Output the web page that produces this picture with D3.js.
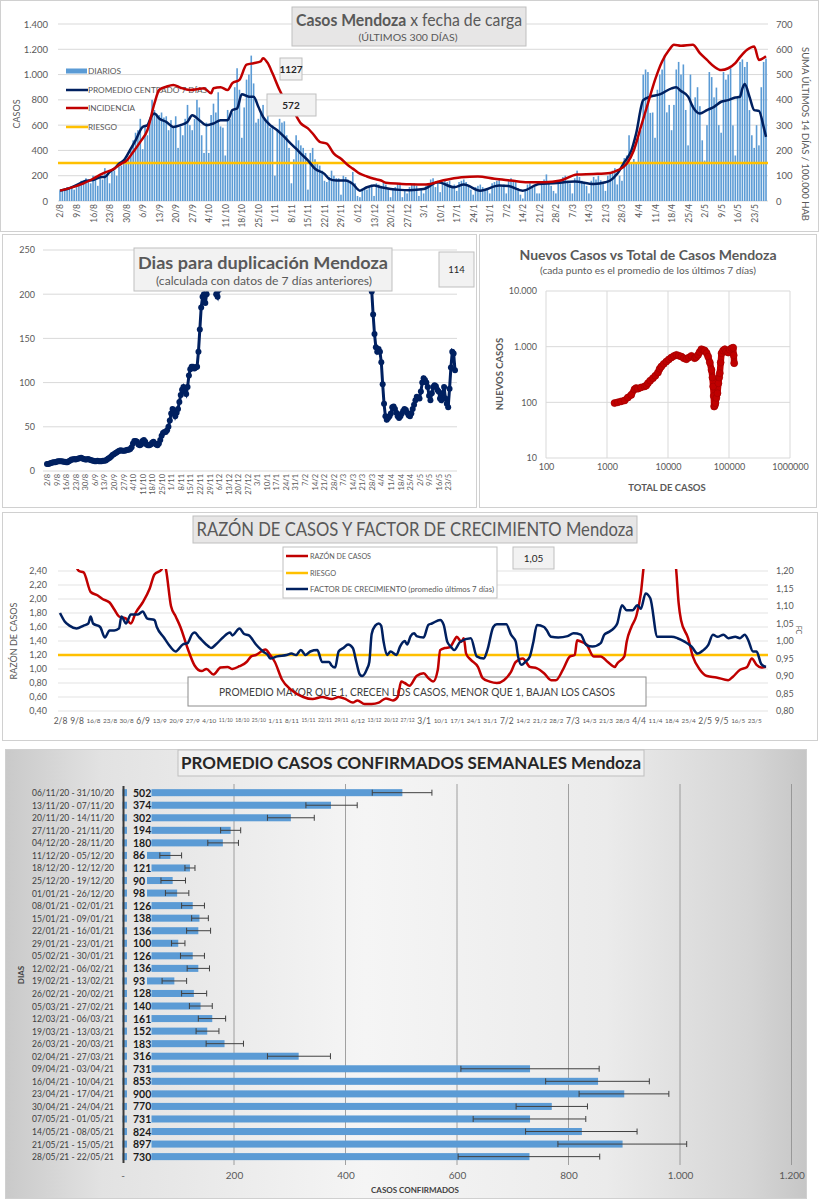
<!DOCTYPE html>
<html>
<head>
<meta charset="utf-8">
<script src="https://cdn.jsdelivr.net/npm/d3@7"></script>
<style>
  body { margin: 0; background: #fff; }
  svg { display: block; }
  text { font-family: Lato, "Open Sans", sans-serif; }
</style>
</head>
<body>
<div id="chart"></div>
<script>
// ---------- datos ----------
const fechas = ["2/8","9/8","16/8","23/8","30/8","6/9","13/9","20/9","27/9","4/10","11/10","18/10","25/10","1/11","8/11","15/11","22/11","29/11","6/12","13/12","20/12","27/12","3/1","10/1","17/1","24/1","31/1","7/2","14/2","21/2","28/2","7/3","14/3","21/3","28/3","4/4","11/4","18/4","25/4","2/5","9/5","16/5","23/5"];

// casos diarios, un valor por dia desde 2/8 (300 dias)
const diarios = [
  85,95,100,110,95,105,90, 110,140,160,150,180,170,140, 200,190,120,180,170,260,200,
  140,230,240,200,270,280,330, 320,350,400,480,540,560,650, 410,600,520,650,800,720,690,
  680,700,660,670,560,640,580, 670,420,590,520,650,760,600, 560,650,800,740,520,380,620,
  380,680,770,700,860,590,580, 360,720,650,700,900,1050,880, 500,740,960,1000,1150,930,620,
  650,700,760,650,720,580,
  600,200,560,650,620,630,520, 420,140,330,520,480,440,420, 380,90,380,420,330,300,280,
  240,160,150,190,240,200,180, 180,50,200,190,170,160,230, 140,40,30,100,110,90,110,
  130,40,140,130,120,150,130, 100,30,90,110,140,130,30, 90,60,110,130,140,120,40,
  100,60,120,140,170,180,110, 160,70,150,170,150,160,106, 130,80,150,160,170,150,112,
  90,50,110,120,130,110,90, 90,60,140,150,160,170,112, 130,60,170,180,160,150,102,
  50,20,90,130,140,110,111, 60,60,140,170,210,150,120, 80,60,150,170,190,200,160,
  140,60,180,240,190,160,150, 120,60,160,190,170,200,164, 150,80,200,220,240,260,131,
  200,160,340,360,520,300,332, 300,500,560,1000,1040,1020,697, 700,500,880,1000,1040,1150,701,
  760,560,760,1040,1100,1000,1080, 720,440,1000,760,820,900,750, 480,320,600,1020,980,820,897,
  600,540,1020,960,1000,1050,598, 360,820,1100,1120,1060,1100,719, 520,420,600,440,900,1100,1127
];
// [dia, valor]
const promedio7 = [[0,82],[3,95],[8,135],[11,160],[14,165],[17,188],[19,190],[21,228],[23,255],[25,295],[27,321],[30,414],[32,480],[35,586],[37,600],[39,679],[40,692],[42,652],[45,626],[48,586],[51,600],[54,626],[56,679],[59,639],[62,600],[65,613],[68,639],[71,639],[73,719],[75,732],[77,845],[80,825],[82,825],[84,745],[86,666],[89,600],[92,560],[95,507],[97,467],[100,414],[102,374],[105,321],[108,255],[112,215],[114,175],[117,162],[121,162],[124,135],[127,82],[130,109],[133,122],[136,109],[140,95],[144,88],[148,86],[154,95],[160,148],[167,109],[171,130],[178,82],[186,122],[190,118],[196,82],[203,135],[209,140],[218,154],[226,135],[231,148],[233,162],[236,215],[239,307],[242,400],[244,533],[247,798],[250,825],[254,843],[259,891],[261,899],[263,870],[266,825],[268,745],[271,692],[274,719],[277,745],[280,785],[283,798],[286,819],[288,825],[289,891],[290,925],[292,825],[294,719],[296,713],[298,586],[299,507]];
// incidencia: suma 14 dias / 100.000 hab (eje derecho)
const incidencia = [[0,41],[3,48],[10,70],[14,88],[18,108],[23,128],[26,148],[28,158],[31,194],[34,234],[37,280],[40,386],[42,439],[45,452],[48,459],[51,448],[55,439],[58,442],[61,446],[64,426],[65,446],[68,450],[71,439],[73,466],[76,479],[79,539],[82,545],[85,552],[86,565],[88,545],[90,505],[93,439],[96,386],[99,353],[102,307],[105,287],[107,267],[110,234],[113,227],[116,187],[119,167],[122,141],[124,128],[127,108],[130,97],[133,88],[136,81],[138,72],[144,68],[148,66],[155,65],[162,81],[170,94],[177,97],[184,88],[191,81],[198,74],[205,74],[212,81],[219,105],[226,107],[233,111],[236,121],[240,147],[243,200],[246,293],[249,386],[252,479],[255,552],[258,598],[260,618],[263,614],[268,618],[271,585],[274,558],[277,532],[280,518],[283,525],[286,545],[288,569],[291,598],[294,611],[296,558],[299,572]];
const riesgoCasos = 300;
const ultimoDiario = "1127", ultimaIncidencia = "572";

// dias para duplicacion: tramo 1 desde el dia 0, tramo 2 desde el dia 237
const duplicacionA = [
  8,8,8.5,9,9.5,10,10, 10.5,11,11,11,11,10.5,10.5, 10,10,11,12,13,13,13.5,
  13,13.5,14,14.5,15,14,13.5, 13,13,13.5,13,12.5,12,11.5, 11,11,11.5,11,11,11,11.5,
  11.5,12,13,14,15,16.5,18, 19,20,21,22,23,23.5,23, 23,23,23.5,24,24,25,27,
  31,34,34,33,30,29,30, 34,35,33,30,29,29,30, 32,33,31,30,29,31,35,
  40,43,44,44,46,50,57, 65,70,68,62,66,70,78, 86,92,95,90,87,95,108,
  115,118,118,116,117,118,135, 160,185,197,200,190,200,210, 230,270,320,280,230,200,197, 205
];
const inicioB = 237;
const duplicacionB = [
  280, 203,177,155,140,135,138,135, 123,98,76,62,58,60,62, 65,72,73,70,66,62,60,
  62,65,68,70,69,66,63, 62,65,70,75,80,84,83, 82,90,100,105,103,100,95,
  85,80,88,95,97,96,92, 90,82,80,88,95,82,76, 72,93,117,135,133,114
];
const ultimaDuplicacion = "114";

// nuevos casos (promedio 7 dias) vs total de casos
const totalCasos = [1330,1500,1700,1940,2200,2495,2830,3000,3213,3600,4130,4400,4690,5100,5665,6200,6850,7300,7770,8500,9390,10300,11350,12500,13700,15000,16560,18200,20000,22000,24200,27400,29000,31100,33000,35300,38000,40100,43000,45500,48500,51600,53500,55000,56200,57100,58500,60000,62000,64700,67000,69000,70700,73000,75400,80000,85500,90000,96900,103000,110000,117000,119500,121500];
const nuevosCasos = [97,100,104,108,122,136,172,180,176,185,193,200,221,245,272,300,343,400,440,490,540,590,638,680,712,690,664,620,595,640,683,621,650,712,800,900,870,851,770,664,520,383,280,192,130,84,88,97,120,146,220,280,334,520,762,850,900,820,783,880,937,960,700,505];

// razon de casos (eje izq) y factor de crecimiento (eje der), [dia, valor]
const razonCasos = [[0,3.2],[4,2.8],[7,2.45],[8,2.4],[10,2.38],[13,2.1],[16,2.05],[18,2.0],[21,1.95],[23,1.85],[25,1.75],[28,1.72],[30,1.65],[32,1.8],[35,1.95],[38,2.15],[40,2.35],[43,2.42],[44,2.55],[45,2.4],[47,1.9],[49,1.75],[51,1.6],[54,1.3],[57,1.05],[60,0.97],[62,1.0],[65,0.92],[68,1.02],[71,1.03],[73,1.0],[76,1.04],[79,1.1],[81,1.18],[83,1.2],[87,1.28],[89,1.2],[91,1.1],[94,0.85],[98,0.7],[103,0.6],[107,0.57],[111,0.6],[115,0.57],[118,0.6],[121,0.57],[124,0.52],[126,0.55],[129,0.5],[132,0.5],[135,0.52],[138,0.58],[141,0.55],[143,0.6],[144.5,0.82],[146,0.8],[148,0.76],[151,0.9],[154,0.94],[156,0.87],[158,0.82],[160,0.99],[161,1.27],[163,1.3],[165,1.31],[167,1.41],[168,1.46],[170,1.39],[171,1.44],[172,1.22],[174,1.13],[177,1.03],[179,0.87],[182,0.82],[185,0.8],[188,0.84],[191,0.96],[193,1.1],[196,1.15],[199,1.03],[202,1.01],[205,0.94],[208,0.84],[210,0.84],[213,0.99],[216,1.18],[218,1.2],[219,1.41],[220,1.4],[223,1.35],[226,1.18],[229,1.18],[232,1.1],[235,1.03],[236,1.08],[239,1.18],[240,1.39],[242,1.6],[244,1.75],[246,2.08],[247,2.4],[249,3.0],[254,3.5],[259,3.0],[261,2.4],[262,1.94],[263,1.7],[266,1.44],[268,1.18],[271,0.99],[274,0.9],[278,0.88],[283,0.84],[285,0.89],[288,0.99],[291,1.03],[293,1.15],[295,1.06],[297,1.02],[299,1.03]];
const factorCrec = [[0,1.080],[2,1.056],[4,1.044],[7,1.036],[10,1.044],[12,1.050],[13,1.070],[14,1.050],[17,1.040],[19,1.010],[21,1.030],[23,1.030],[25,1.036],[26,1.070],[28,1.050],[30,1.076],[33,1.076],[35,1.084],[37,1.064],[40,1.060],[41,1.040],[44,1.010],[46,0.990],[49,0.970],[52,0.990],[54,0.994],[56,1.020],[57,1.024],[59,1.010],[63,0.984],[64,0.980],[66,0.990],[69,1.010],[72,1.024],[73,1.016],[76,1.036],[78,1.020],[80,1.016],[83,0.990],[85,0.976],[86,0.970],[88,0.960],[89,0.950],[92,0.956],[96,0.960],[98,0.964],[100,0.960],[102,0.974],[104,0.960],[106,0.970],[109,0.974],[111,0.940],[114,0.940],[115,0.930],[116.5,0.924],[118,0.970],[120,0.980],[122,0.990],[124,0.980],[125.5,0.940],[127,0.904],[128,0.900],[130,0.920],[131,0.940],[132,1.020],[133.5,1.044],[135,1.050],[136,1.044],[137,1.000],[138.5,0.960],[140,0.970],[142.5,0.960],[144,0.984],[146,1.000],[147,0.990],[148.5,1.014],[150,1.022],[151,1.014],[154,1.010],[156,1.046],[157.5,1.050],[161,1.060],[162.5,1.046],[164,0.998],[165.5,0.984],[167,0.974],[169.5,0.998],[174,1.008],[176.5,0.956],[179.5,0.950],[181,0.974],[183.5,1.040],[185,1.048],[189,1.048],[191,1.018],[193,0.998],[194,0.956],[195.5,0.932],[197,0.940],[199,0.956],[200.5,0.998],[202,1.046],[205,1.040],[206,1.032],[208,1.012],[211,1.010],[215,1.014],[217.5,1.022],[220.5,1.018],[223,0.988],[225.5,0.984],[229,0.994],[230.5,1.018],[232.5,1.026],[234.5,1.036],[236,1.050],[238,1.102],[240,1.088],[242.5,1.088],[244.5,1.102],[246,1.092],[248,1.136],[250,1.122],[253,1.012],[259,1.012],[261.5,1.008],[264.5,0.998],[267.5,0.984],[270,0.964],[272.5,0.974],[274.5,0.988],[276.5,1.018],[278.5,1.012],[281,1.018],[283,1.008],[286,1.012],[288,1.008],[290,1.018],[291.5,1.002],[293.5,0.970],[295,0.970],[297,0.934],[299,0.926]];
const riesgoRazon = 1.2;
const ultimoFC = "1,05";

// promedio semanal de casos confirmados
const semanas = ["06/11/20 - 31/10/20","13/11/20 - 07/11/20","20/11/20 - 14/11/20","27/11/20 - 21/11/20","04/12/20 - 28/11/20","11/12/20 - 05/12/20","18/12/20 - 12/12/20","25/12/20 - 19/12/20","01/01/21 - 26/12/20","08/01/21 - 02/01/21","15/01/21 - 09/01/21","22/01/21 - 16/01/21","29/01/21 - 23/01/21","05/02/21 - 30/01/21","12/02/21 - 06/02/21","19/02/21 - 13/02/21","26/02/21 - 20/02/21","05/03/21 - 27/02/21","12/03/21 - 06/03/21","19/03/21 - 13/03/21","26/03/21 - 20/03/21","02/04/21 - 27/03/21","09/04/21 - 03/04/21","16/04/21 - 10/04/21","23/04/21 - 17/04/21","30/04/21 - 24/04/21","07/05/21 - 01/05/21","14/05/21 - 08/05/21","21/05/21 - 15/05/21","28/05/21 - 22/05/21"];
const promSemanal = [502,374,302,194,180,86,121,90,98,126,138,136,100,126,136,93,128,140,161,152,183,316,731,853,900,770,731,824,897,730];
const errorInf = [448,329,260,176,153,67,112,69,77,106,124,115,88,104,116,71,106,120,136,132,150,260,607,759,819,706,629,723,781,602];
const errorSup = [555,421,344,212,208,106,130,113,119,147,154,158,112,147,156,115,151,161,185,173,217,373,855,945,980,834,831,923,1012,856];

// ---------- estilo ----------
const GRIS = "#595959", AZUL = "#002060", ROJO = "#c00000", NARANJA = "#ffc000", CELESTE = "#5b9bd5";
const ANGOSTA = "'Liberation Sans Narrow', 'DejaVu Sans Condensed', Lato, sans-serif";
const locale = d3.formatLocale({decimal: ",", thousands: ".", grouping: [3], currency: ["$", ""]});
const fmtMiles = locale.format(",");
const fmtDec2 = locale.format(".2f");

const svg = d3.select("#chart").append("svg").attr("width", 819).attr("height", 1200);
const defs = svg.append("defs");

function caja(g, x, y, w, h, fill) {
  return g.append("rect").attr("x", x).attr("y", y).attr("width", w).attr("height", h)
    .attr("fill", fill).attr("stroke", "#bfbfbf");
}

function texto(g, x, y, str, size, o = {}) {
  const t = g.append("text").attr("x", x).attr("y", y).text(str)
    .attr("font-size", size).attr("fill", o.fill || GRIS)
    .attr("text-anchor", o.anchor || "start")
    .attr("font-weight", o.weight || "normal");
  if (o.family) t.attr("font-family", o.family);
  if (o.len) t.attr("textLength", o.len).attr("lengthAdjust", "spacingAndGlyphs");
  if (o.rotate) t.attr("transform", `rotate(${o.rotate},${x},${y})`);
  return t;
}

function limpiarEje(a, size) {
  a.attr("font-family", null).attr("font-size", size);
  a.select(".domain").remove();
  a.selectAll(".tick line").remove();
  a.selectAll("text").attr("fill", GRIS);
}

function ejeFechasVertical(g, x, y0, size) {
  const a = g.append("g").attr("transform", `translate(0,${y0})`)
    .call(d3.axisBottom(x).tickValues(d3.range(0, 295, 7)).tickFormat((d, i) => fechas[i]).tickSize(0));
  limpiarEje(a, size);
  a.selectAll("text").attr("transform", "rotate(-90)").attr("text-anchor", "end")
    .attr("x", -3).attr("y", 0).attr("dy", "0.35em");
}

function clip(id, x, y, w, h) {
  defs.append("clipPath").attr("id", id).append("rect").attr("x", x).attr("y", y).attr("width", w).attr("height", h);
}

// ---------- panel 1: casos diarios ----------
const p1 = svg.append("g");
p1.append("rect").attr("x", 0.5).attr("y", 0.5).attr("width", 818).attr("height", 231).attr("fill", "#fff").attr("stroke", "#d0d0d0");
const x1 = d3.scaleLinear().domain([0, 299]).range([60, 766]);
const y1 = d3.scaleLinear().domain([0, 1400]).range([201, 24]);
const y1r = d3.scaleLinear().domain([0, 700]).range([201, 24]);

p1.selectAll("line.grid").data(d3.range(0, 1401, 200)).join("line").attr("class", "grid")
  .attr("x1", 58).attr("x2", 768).attr("y1", d => y1(d)).attr("y2", d => y1(d)).attr("stroke", "#d9d9d9");

const a1 = p1.append("g").attr("transform", "translate(50,0)")
  .call(d3.axisLeft(y1).tickValues(d3.range(0, 1401, 200)).tickFormat(fmtMiles).tickSize(0).tickPadding(2));
limpiarEje(a1, 9.5);
const a1r = p1.append("g").attr("transform", "translate(774,0)")
  .call(d3.axisRight(y1r).tickValues(d3.range(0, 701, 100)).tickFormat(fmtMiles).tickSize(0).tickPadding(2));
limpiarEje(a1r, 9.5);
ejeFechasVertical(p1, x1, 201, 8.5);

p1.selectAll("rect.bar").data(diarios).join("rect").attr("class", "bar")
  .attr("x", (d, i) => x1(i) - 0.8).attr("width", 1.6)
  .attr("y", d => y1(d)).attr("height", d => y1(0) - y1(d)).attr("fill", CELESTE);

// leyenda
const ley1 = p1.append("g");
ley1.append("rect").attr("x", 66).attr("y", 68.5).attr("width", 21).attr("height", 5).attr("fill", CELESTE);
[[90, AZUL], [108, ROJO], [127, NARANJA]].forEach(([y, c]) =>
  ley1.append("line").attr("x1", 66).attr("x2", 88).attr("y1", y).attr("y2", y).attr("stroke", c).attr("stroke-width", 2.5));
texto(ley1, 88, 74, "DIARIOS", 8, {family: ANGOSTA, len: 33});
texto(ley1, 88, 93, "PROMEDIO CENTRADO 7 DÍAS", 8, {family: ANGOSTA, len: 119});
texto(ley1, 88, 111, "INCIDENCIA", 8, {family: ANGOSTA, len: 47});
texto(ley1, 88, 130, "RIESGO", 8, {family: ANGOSTA, len: 29});

p1.append("line").attr("x1", 58).attr("x2", 768).attr("y1", y1(riesgoCasos)).attr("y2", y1(riesgoCasos))
  .attr("stroke", NARANJA).attr("stroke-width", 2.5);
const linea1 = d3.line().x(d => x1(d[0])).y(d => y1(d[1])).curve(d3.curveMonotoneX);
const linea1r = d3.line().x(d => x1(d[0])).y(d => y1r(d[1])).curve(d3.curveMonotoneX);
p1.append("path").attr("d", linea1(promedio7)).attr("fill", "none").attr("stroke", AZUL).attr("stroke-width", 2.5);
p1.append("path").attr("d", linea1r(incidencia)).attr("fill", "none").attr("stroke", ROJO).attr("stroke-width", 2.5);

texto(p1, 20, 114, "CASOS", 9, {anchor: "middle", rotate: -90});
texto(p1, 802, 134, "SUMA  ÚLTIMOS 14 DÍAS / 100.000 HAB", 9.5, {anchor: "middle", rotate: 90, len: 174});

caja(p1, 292, 7, 234, 39, "#e7e6e6");
const t1 = texto(p1, 409, 26, "", 17, {anchor: "middle", len: 226});
t1.append("tspan").attr("font-weight", "bold").text("Casos Mendoza ");
t1.append("tspan").text("x fecha de carga");
texto(p1, 408, 41, "(ÚLTIMOS 300 DÍAS)", 9.5, {anchor: "middle", len: 99});
caja(p1, 280, 58, 22, 22, "#f2f2f2");
texto(p1, 291, 73, ultimoDiario, 10, {anchor: "middle", weight: "bold", fill: "#262626"});
caja(p1, 267, 94, 49, 22, "#f2f2f2");
texto(p1, 291, 109, ultimaIncidencia, 10, {anchor: "middle", weight: "bold", fill: "#262626"});

// ---------- panel 2: dias para duplicacion ----------
const p2 = svg.append("g");
p2.append("rect").attr("x", 2.5).attr("y", 234.5).attr("width", 474).attr("height", 273).attr("fill", "#fff").attr("stroke", "#d0d0d0");
const x2 = d3.scaleLinear().domain([0, 299]).range([47, 455]);
const y2 = d3.scaleLinear().domain([0, 250]).range([471, 250]);
p2.selectAll("line.grid").data(d3.range(0, 251, 50)).join("line").attr("class", "grid")
  .attr("x1", 43).attr("x2", 457).attr("y1", d => y2(d)).attr("y2", d => y2(d)).attr("stroke", "#d9d9d9");
const a2 = p2.append("g").attr("transform", "translate(38,0)")
  .call(d3.axisLeft(y2).tickValues(d3.range(0, 251, 50)).tickSize(0).tickPadding(3));
limpiarEje(a2, 9);
ejeFechasVertical(p2, x2, 471, 7.5);

clip("clipDup", 43, 248, 416, 226);
const puntosDup = duplicacionA.map((v, i) => [i, v]).concat([null]).concat(duplicacionB.map((v, i) => [inicioB + i, v]));
const lineaDup = d3.line().defined(d => d !== null).x(d => x2(d[0])).y(d => y2(d[1]));
const gDup = p2.append("g").attr("clip-path", "url(#clipDup)");
gDup.append("path").attr("d", lineaDup(puntosDup)).attr("fill", "none").attr("stroke", AZUL).attr("stroke-width", 3);
gDup.selectAll("circle").data(puntosDup.filter(d => d !== null)).join("circle")
  .attr("cx", d => x2(d[0])).attr("cy", d => y2(d[1])).attr("r", 3).attr("fill", AZUL);

caja(p2, 134, 248, 258, 43, "#f2f2f2");
texto(p2, 263, 269, "Dias para duplicación Mendoza", 17, {anchor: "middle", weight: "bold", len: 250});
texto(p2, 264, 285, "(calculada con datos de 7 días anteriores)", 11, {anchor: "middle", len: 216});
caja(p2, 439, 252, 35, 35, "#f2f2f2");
texto(p2, 456.5, 273, ultimaDuplicacion, 9.5, {anchor: "middle", fill: "#262626"});

// ---------- panel 3: nuevos vs total ----------
const p3 = svg.append("g");
p3.append("rect").attr("x", 479.5).attr("y", 234.5).attr("width", 337).attr("height", 273).attr("fill", "#fff").attr("stroke", "#d0d0d0");
const x3 = d3.scaleLog().domain([100, 1e6]).range([546, 790]);
const y3 = d3.scaleLog().domain([10, 1e4]).range([458, 291]);
const decX = [100, 1000, 10000, 100000, 1000000], decY = [10, 100, 1000, 10000];
p3.selectAll("line.gx").data(decX).join("line").attr("class", "gx")
  .attr("x1", d => x3(d)).attr("x2", d => x3(d)).attr("y1", 291).attr("y2", 458).attr("stroke", "#d9d9d9");
p3.selectAll("line.gy").data(decY).join("line").attr("class", "gy")
  .attr("x1", 546).attr("x2", 790).attr("y1", d => y3(d)).attr("y2", d => y3(d)).attr("stroke", "#d9d9d9");
const a3y = p3.append("g").attr("transform", "translate(539,0)")
  .call(d3.axisLeft(y3).tickValues(decY).tickFormat(fmtMiles).tickSize(0).tickPadding(2));
limpiarEje(a3y, 9);
const a3x = p3.append("g").attr("transform", "translate(0,462)")
  .call(d3.axisBottom(x3).tickValues(decX).tickFormat(d3.format("d")).tickSize(0).tickPadding(2));
limpiarEje(a3x, 9);
const puntosSc = totalCasos.map((t, i) => [t, nuevosCasos[i]]);
p3.append("path").attr("d", d3.line().x(d => x3(d[0])).y(d => y3(d[1]))(puntosSc))
  .attr("fill", "none").attr("stroke", ROJO).attr("stroke-width", 6.5).attr("stroke-linejoin", "round").attr("stroke-linecap", "round");
p3.selectAll("circle").data(puntosSc).join("circle")
  .attr("cx", d => x3(d[0])).attr("cy", d => y3(d[1])).attr("r", 3.5).attr("fill", ROJO).attr("stroke", "#a00000").attr("stroke-width", 0.6);
texto(p3, 648, 260, "Nuevos Casos vs Total de Casos Mendoza", 13.5, {anchor: "middle", weight: "bold", len: 257});
texto(p3, 648, 274, "(cada punto es el promedio de los últimos 7 días)", 9.5, {anchor: "middle", len: 216});
texto(p3, 503, 374, "NUEVOS CASOS", 9.5, {anchor: "middle", weight: "bold", rotate: -90});
texto(p3, 667, 491, "TOTAL DE CASOS", 9.5, {anchor: "middle", weight: "bold"});

// ---------- panel 4: razon de casos y factor de crecimiento ----------
const p4 = svg.append("g");
p4.append("rect").attr("x", 2.5).attr("y", 512.5).attr("width", 815).attr("height", 228).attr("fill", "#fff").attr("stroke", "#d0d0d0");
const x4 = d3.scaleLinear().domain([0, 299]).range([60, 766]);
const y4 = d3.scaleLinear().domain([0.4, 2.4]).range([711, 571]);
const y4r = d3.scaleLinear().domain([0.8, 1.2]).range([711, 571]);
const ticksIzq = d3.range(0, 11).map(i => +(0.4 + 0.2 * i).toFixed(2));
const ticksDer = d3.range(0, 9).map(i => +(0.8 + 0.05 * i).toFixed(2));
p4.selectAll("line.grid").data(ticksIzq).join("line").attr("class", "grid")
  .attr("x1", 58).attr("x2", 768).attr("y1", d => y4(d)).attr("y2", d => y4(d)).attr("stroke", "#e3e3e3");
const a4 = p4.append("g").attr("transform", "translate(49,0)")
  .call(d3.axisLeft(y4).tickValues(ticksIzq).tickFormat(fmtDec2).tickSize(0).tickPadding(2));
limpiarEje(a4, 9);
const a4r = p4.append("g").attr("transform", "translate(774,0)")
  .call(d3.axisRight(y4r).tickValues(ticksDer).tickFormat(fmtDec2).tickSize(0).tickPadding(2));
limpiarEje(a4r, 9);
const a4x = p4.append("g").attr("transform", "translate(0,716)")
  .call(d3.axisBottom(x4).tickValues(d3.range(0, 295, 7)).tickFormat((d, i) => fechas[i]).tickSize(0).tickPadding(2));
limpiarEje(a4x, 8.5);
// las fechas van muy juntas: se achica la letra de las mas largas para que no se pisen
const pasoSemana = x4(7) - x4(0) - 2.5;
a4x.selectAll("text").each(function() {
  const ancho = this.getComputedTextLength();
  if (ancho > pasoSemana) d3.select(this).attr("font-size", (8.5 * pasoSemana / ancho).toFixed(2));
});

// leyenda y nota (debajo de las lineas)
caja(p4, 283, 547, 214, 51, "#fff");
[[556, ROJO, "RAZÓN DE CASOS", 61], [573, NARANJA, "RIESGO", 26], [589, AZUL, "FACTOR DE CRECIMIENTO (promedio últimos 7 días)", 184]].forEach(([y, c, s, l]) => {
  p4.append("line").attr("x1", 286).attr("x2", 308).attr("y1", y).attr("y2", y).attr("stroke", c).attr("stroke-width", 2.5);
  texto(p4, 310, y + 2.8, s, 7.5, {family: ANGOSTA, len: l});
});
caja(p4, 188, 677, 458, 29, "#fff").attr("stroke", "#8c8c8c");
texto(p4, 417, 696, "PROMEDIO MAYOR QUE 1, CRECEN LOS CASOS, MENOR QUE 1, BAJAN LOS CASOS", 11.5, {anchor: "middle", fill: "#404040", len: 396});

clip("clipRazon", 58, 569, 712, 144);
const gR = p4.append("g").attr("clip-path", "url(#clipRazon)");
gR.append("line").attr("x1", 58).attr("x2", 768).attr("y1", y4(riesgoRazon)).attr("y2", y4(riesgoRazon))
  .attr("stroke", NARANJA).attr("stroke-width", 2.5);
gR.append("path").attr("d", d3.line().x(d => x4(d[0])).y(d => y4(d[1])).curve(d3.curveMonotoneX)(razonCasos))
  .attr("fill", "none").attr("stroke", ROJO).attr("stroke-width", 2.5);
gR.append("path").attr("d", d3.line().x(d => x4(d[0])).y(d => y4r(d[1])).curve(d3.curveMonotoneX)(factorCrec))
  .attr("fill", "none").attr("stroke", AZUL).attr("stroke-width", 2.5);

texto(p4, 17, 641, "RAZÓN DE CASOS", 9, {anchor: "middle", rotate: -90});
texto(p4, 796, 630, "FC", 7, {anchor: "middle", rotate: 90});
caja(p4, 193, 516, 444, 27, "#e7e6e6");
texto(p4, 415, 536, "RAZÓN DE CASOS Y FACTOR DE CRECIMIENTO Mendoza", 19, {anchor: "middle", len: 437});
caja(p4, 513, 547, 41, 22, "#f2f2f2");
texto(p4, 533.5, 562, ultimoFC, 10, {anchor: "middle", fill: "#262626"});

// ---------- panel 5: promedio semanal ----------
const p5 = svg.append("g");
const grad = defs.append("linearGradient").attr("id", "fondo").attr("gradientUnits", "userSpaceOnUse")
  .attr("x1", 5).attr("y1", 0).attr("x2", 807).attr("y2", 0);
[[0, "#c9c9c9"], [0.12, "#e2e2e2"], [0.45, "#f5f5f5"], [0.75, "#ebebeb"], [0.93, "#d5d5d5"], [1, "#c6c6c6"]]
  .forEach(s => grad.append("stop").attr("offset", s[0]).attr("stop-color", s[1]));
p5.append("rect").attr("x", 5.5).attr("y", 749.5).attr("width", 801).attr("height", 449).attr("fill", "url(#fondo)").attr("stroke", "#d0d0d0");

const xb = d3.scaleLinear().domain([0, 1200]).range([122.5, 791.5]);
const yb = d3.scaleBand().domain(semanas).range([786.4, 1162.9]).paddingInner(0.44).paddingOuter(0.22);
const ticksB = d3.range(0, 1201, 200);
p5.selectAll("line.grid").data(ticksB.slice(1)).join("line").attr("class", "grid")
  .attr("x1", d => xb(d)).attr("x2", d => xb(d)).attr("y1", 784).attr("y2", 1165).attr("stroke", "#8c8c8c").attr("stroke-width", 0.8);
const a5 = p5.append("g").attr("transform", "translate(0,1170)")
  .call(d3.axisBottom(xb).tickValues(ticksB).tickFormat(d => d === 0 ? "-" : fmtMiles(d)).tickSize(0).tickPadding(2));
limpiarEje(a5, 10);

p5.selectAll("rect.bar").data(promSemanal).join("rect").attr("class", "bar")
  .attr("x", xb(0)).attr("y", (d, i) => yb(semanas[i]))
  .attr("width", d => xb(d) - xb(0)).attr("height", yb.bandwidth()).attr("fill", CELESTE);
// fondo de las etiquetas de valor
p5.selectAll("rect.lab").data(promSemanal).join("rect").attr("class", "lab")
  .attr("x", 127).attr("y", (d, i) => yb(semanas[i]) - 2.5)
  .attr("width", d => d < 100 ? 20 : 24.5).attr("height", yb.bandwidth() + 5).attr("fill", "url(#fondo)");
p5.selectAll("text.val").data(promSemanal).join("text").attr("class", "val")
  .attr("x", 133).attr("y", (d, i) => yb(semanas[i]) + yb.bandwidth() / 2 + 4)
  .attr("font-size", 10.5).attr("font-weight", "bold").attr("fill", "#1a1a1a").text(d => d);

const gErr = p5.append("g").attr("stroke", "#404040").attr("stroke-width", 1);
promSemanal.forEach((v, i) => {
  const cy = yb(semanas[i]) + yb.bandwidth() / 2;
  gErr.append("line").attr("x1", xb(errorInf[i])).attr("x2", xb(errorSup[i])).attr("y1", cy).attr("y2", cy);
  [errorInf[i], errorSup[i]].forEach(e =>
    gErr.append("line").attr("x1", xb(e)).attr("x2", xb(e)).attr("y1", cy - 3).attr("y2", cy + 3));
});

p5.append("line").attr("x1", 123.5).attr("x2", 123.5).attr("y1", 786).attr("y2", 1163)
  .attr("stroke", "#3a3a3a").attr("stroke-width", 2);
p5.selectAll("text.sem").data(semanas).join("text").attr("class", "sem")
  .attr("x", 114).attr("y", d => yb(d) + yb.bandwidth() / 2 + 3.5).attr("text-anchor", "end")
  .attr("font-size", 10).attr("fill", "#404040").attr("textLength", 82).attr("lengthAdjust", "spacingAndGlyphs").text(d => d);

caja(p5, 178, 750, 466, 26, "#f0f0f0");
texto(p5, 411, 769, "PROMEDIO CASOS CONFIRMADOS SEMANALES Mendoza", 17.5, {anchor: "middle", weight: "bold", fill: "#262626", len: 460});
texto(p5, 415, 1193, "CASOS CONFIRMADOS", 8, {anchor: "middle", weight: "bold", fill: "#404040"});
texto(p5, 24, 975, "DIAS", 8, {anchor: "middle", weight: "bold", fill: "#404040", rotate: -90});
</script>
</body>
</html>
